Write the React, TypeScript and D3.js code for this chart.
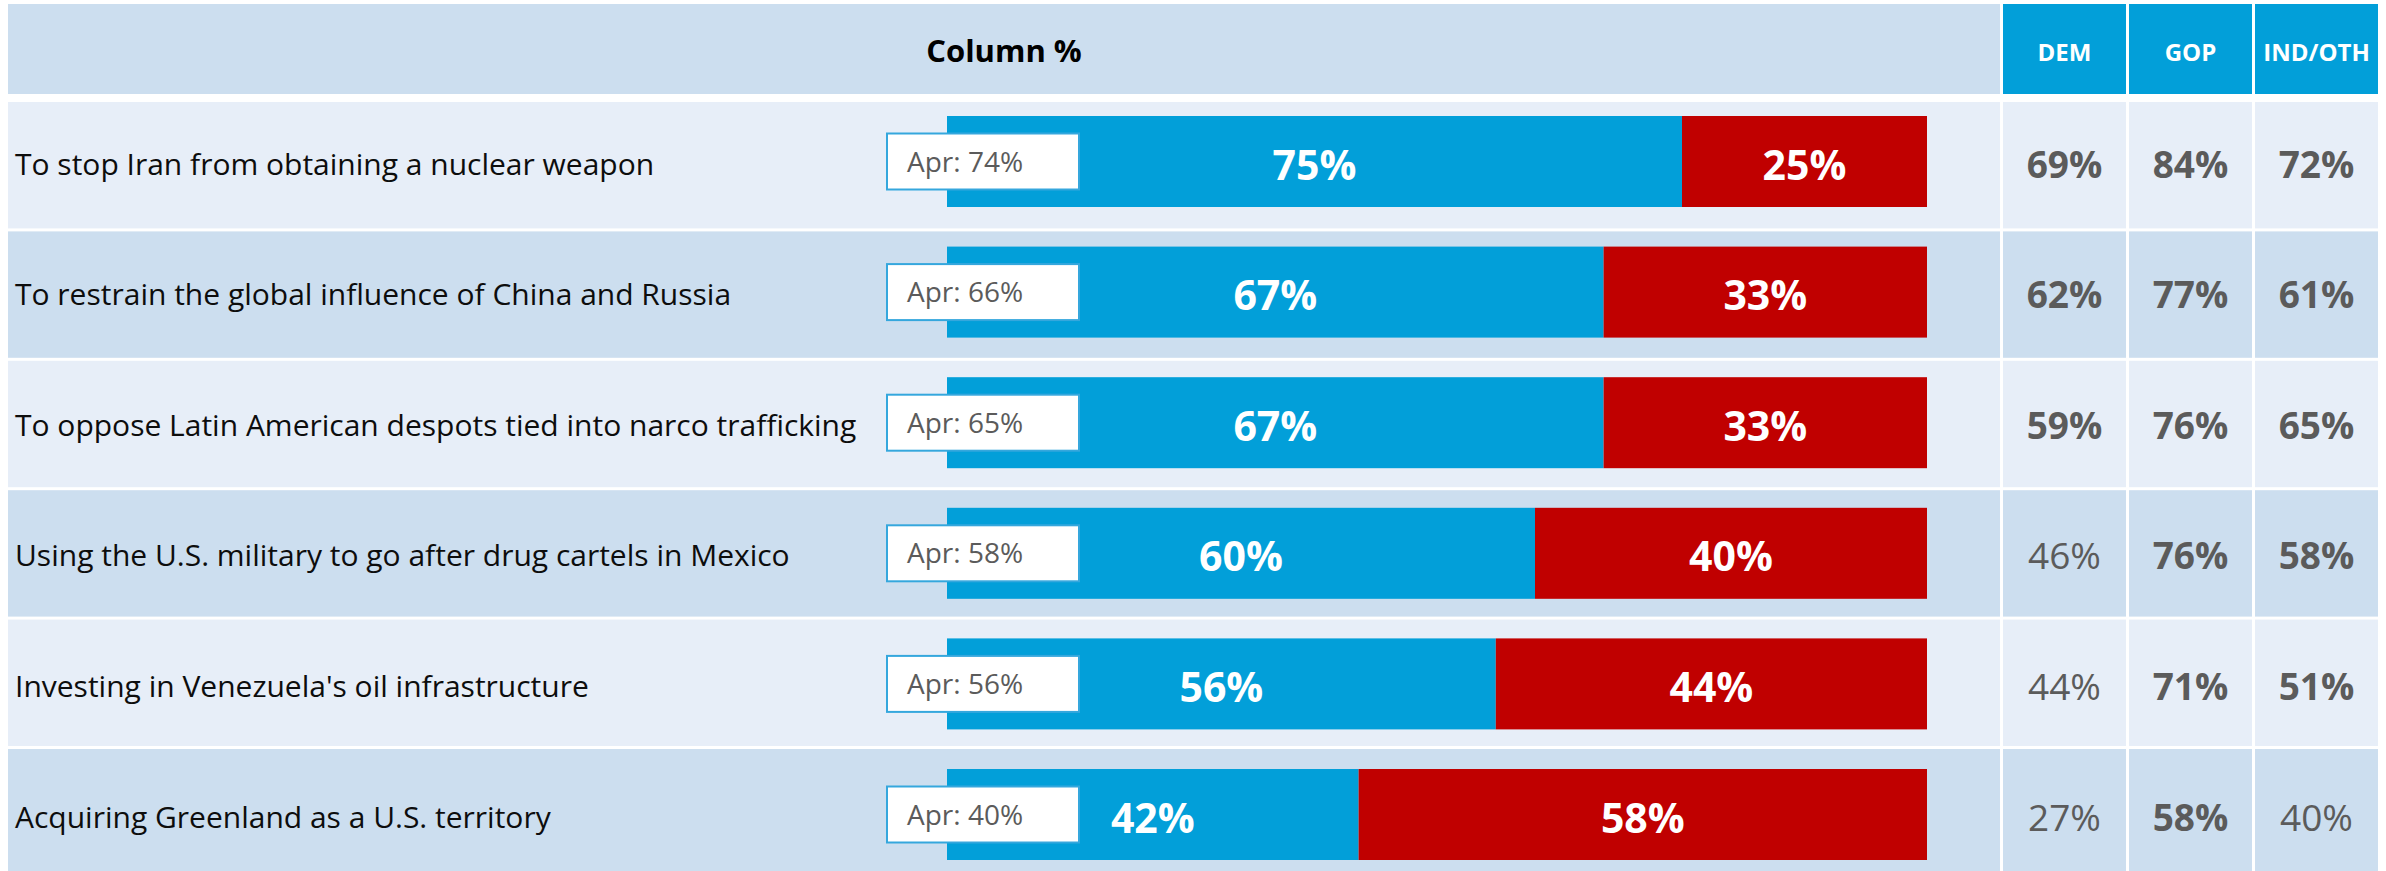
import React from 'react';
import * as d3 from 'd3';

const statements = [
  'To stop Iran from obtaining a nuclear weapon',
  'To restrain the global influence of China and Russia',
  'To oppose Latin American despots tied into narco trafficking',
  'Using the U.S. military to go after drug cartels in Mexico',
  "Investing in Venezuela's oil infrastructure",
  'Acquiring Greenland as a U.S. territory',
];
const aprValues = [74, 66, 65, 58, 56, 40];
const supportValues = [75, 67, 67, 60, 56, 42];
const opposeValues = [25, 33, 33, 40, 44, 58];
const partyGroups = ['DEM', 'GOP', 'IND/OTH'];
const demValues = [69, 62, 59, 46, 44, 27];
const gopValues = [84, 77, 76, 76, 71, 58];
const indValues = [72, 61, 65, 58, 51, 40];

const W = 2386;
const H = 871;
const FONT = "'Open Sans', 'Noto Sans', sans-serif";
const BLUE = '#029FD9';
const RED = '#C00000';
const LIGHT = '#E7EEF8';
const DARK = '#CCDEEF';
const GREY_TXT = '#5B5B5B';

const App: React.FC = () => {
  const idx = statements.map((_, i) => i);

  // row backgrounds
  const rowY = d3.scaleBand<number>()
    .domain(idx)
    .range([102, 102 + 6 * 129.4 - 3])
    .paddingInner(3 / 129.4);

  // bars sit on a slightly wider pitch than the rows in the original
  const barY = d3.scaleBand<number>()
    .domain(idx)
    .range([116, 116 + 6 * 130.6 - 39.6])
    .paddingInner(39.6 / 130.6);

  const x = d3.scaleLinear().domain([0, 100]).range([947, 1927]);

  const colX = d3.scaleBand<string>()
    .domain(partyGroups)
    .range([2003, 2378])
    .paddingInner(3 / 126);

  const partyValues = [demValues, gopValues, indValues];
  const mainLeft = 8;
  const mainRight = 2000;

  return (
    <svg
      width={W}
      height={H}
      style={{ position: 'absolute', left: 0, top: 0, background: '#fff' }}
      fontFamily={FONT}
    >
      {/* header */}
      <rect x={mainLeft} y={4} width={mainRight - mainLeft} height={90} fill={DARK} />
      <text
        x={(mainLeft + mainRight) / 2}
        y={62}
        textAnchor="middle"
        fontSize={31}
        fontWeight={700}
        fill="#000"
      >
        Column %
      </text>
      {partyGroups.map(p => (
        <g key={p}>
          <rect x={colX(p)!} y={4} width={colX.bandwidth()} height={90} fill={BLUE} />
          <text
            x={colX(p)! + colX.bandwidth() / 2}
            y={61}
            textAnchor="middle"
            fontSize={24}
            fontWeight={700}
            fill="#fff"
          >
            {p}
          </text>
        </g>
      ))}

      {/* rows */}
      {idx.map(i => {
        const bg = i % 2 === 0 ? LIGHT : DARK;
        const top = rowY(i)!;
        const h = rowY.bandwidth();
        const bTop = barY(i)!;
        const bH = barY.bandwidth();
        const bMid = bTop + bH / 2;
        const split = x(supportValues[i]);
        return (
          <g key={i}>
            <rect x={mainLeft} y={top} width={mainRight - mainLeft} height={h} fill={bg} />
            {partyGroups.map(p => (
              <rect key={p} x={colX(p)!} y={top} width={colX.bandwidth()} height={h} fill={bg} />
            ))}

            <text x={15} y={bMid + 13} fontSize={30} fill="#0D0D0D">
              {statements[i]}
            </text>

            <rect x={x(0)} y={bTop} width={split - x(0)} height={bH} fill={BLUE} />
            <rect x={split} y={bTop} width={x(100) - split} height={bH} fill={RED} />

            <rect x={887} y={bMid - 28} width={192} height={56} fill="#fff" stroke="#35A7DD" strokeWidth={2} />
            <text x={907} y={bMid + 10} fontSize={28} fill={GREY_TXT}>
              {`Apr: ${aprValues[i]}%`}
            </text>

            <text
              x={(x(0) + split) / 2}
              y={bMid + 18}
              textAnchor="middle"
              fontSize={41}
              fontWeight={700}
              fill="#fff"
            >
              {`${supportValues[i]}%`}
            </text>
            <text
              x={(split + x(100)) / 2}
              y={bMid + 18}
              textAnchor="middle"
              fontSize={41}
              fontWeight={700}
              fill="#fff"
            >
              {`${opposeValues[i]}%`}
            </text>

            {partyGroups.map((p, j) => {
              const v = partyValues[j][i];
              return (
                <text
                  key={p}
                  x={colX(p)! + colX.bandwidth() / 2}
                  y={bMid + 16}
                  textAnchor="middle"
                  fontSize={37}
                  fontWeight={v > 50 ? 700 : 400}
                  fill={GREY_TXT}
                >
                  {`${v}%`}
                </text>
              );
            })}
          </g>
        );
      })}
    </svg>
  );
};

export default App;
